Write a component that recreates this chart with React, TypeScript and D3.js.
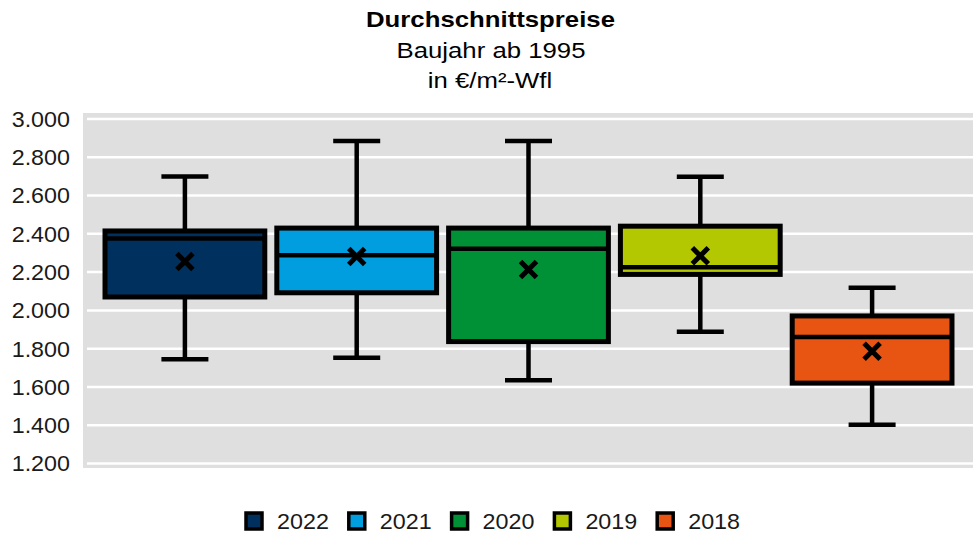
import React from "react";
import * as d3 from "d3";

const years = ["2022", "2021", "2020", "2019", "2018"];
const colors = ["#00305E", "#009EDE", "#009036", "#B3C800", "#E85412"];
const whiskerLow = [1745, 1752, 1635, 1888, 1403];
const q1 = [2070, 2092, 1837, 2188, 1620];
const median = [2376, 2288, 2322, 2226, 1861];
const q3 = [2415, 2430, 2430, 2440, 1971];
const whiskerHigh = [2700, 2885, 2885, 2698, 2118];
const mean = [2255, 2282, 2214, 2285, 1786];
const yTicks = [1200, 1400, 1600, 1800, 2000, 2200, 2400, 2600, 2800, 3000];
const titleLines = ["Durchschnittspreise", "Baujahr ab 1995", "in €/m²-Wfl"];

const W = 973;
const H = 535;
const font = "'Liberation Sans', Arial, sans-serif";
const fmt = (v: number) => d3.format(",.0f")(v).replace(/,/g, ".");

function SText(props: { x: number; y: number; sx: number; size: number; anchor?: string; bold?: boolean; dy?: string; fill?: string; children: React.ReactNode }) {
  return (
    <text
      transform={`translate(${props.x},${props.y}) scale(${props.sx},1)`}
      dy={props.dy}
      textAnchor={props.anchor || "start"}
      fontFamily={font}
      fontSize={props.size}
      fontWeight={props.bold ? "bold" : "normal"}
      fill={props.fill || "#000"}
    >
      {props.children}
    </text>
  );
}

export default function App() {
  const y = d3.scaleLinear().domain([1200, 3000]).range([463.5, 119]);
  const x = d3.scalePoint<string>().domain(years).range([99, 958]).padding(0.5);
  const step = x.step();
  const boxW = step * 0.93;
  const capW = 47;
  const m = 8;
  return (
    <svg width={W} height={H} style={{ position: "absolute", left: 0, top: 0, background: "#fff" }}>
      <SText x={490.5} y={26.5} sx={1.12} size={23} anchor="middle" bold>{titleLines[0]}</SText>
      <SText x={491} y={58} sx={1.12} size={23} anchor="middle">{titleLines[1]}</SText>
      <SText x={490} y={87.5} sx={1.12} size={23} anchor="middle">{titleLines[2]}</SText>
      <rect x={83} y={113} width={890} height={355} fill="#DFDFDF" />
      {yTicks.map((t) => (
        <g key={t}>
          <line x1={87} x2={973} y1={y(t)} y2={y(t)} stroke="#fff" strokeWidth={2.5} />
          <SText x={70} y={y(t)} dy="0.36em" sx={1.06} size={22} anchor="end" fill="#1a1a1a">{fmt(t)}</SText>
        </g>
      ))}
      {years.map((yr, i) => {
        const cx = x(yr)!;
        return (
          <g key={yr}>
            <line x1={cx} x2={cx} y1={y(whiskerHigh[i])} y2={y(q3[i])} stroke="#000" strokeWidth={4.5} />
            <line x1={cx} x2={cx} y1={y(q1[i])} y2={y(whiskerLow[i])} stroke="#000" strokeWidth={4.5} />
            <line x1={cx - capW / 2} x2={cx + capW / 2} y1={y(whiskerHigh[i])} y2={y(whiskerHigh[i])} stroke="#000" strokeWidth={4.5} />
            <line x1={cx - capW / 2} x2={cx + capW / 2} y1={y(whiskerLow[i])} y2={y(whiskerLow[i])} stroke="#000" strokeWidth={4.5} />
            <rect x={cx - boxW / 2} y={y(q3[i])} width={boxW} height={y(q1[i]) - y(q3[i])} fill={colors[i]} stroke="#000" strokeWidth={5} />
            <line x1={cx - boxW / 2} x2={cx + boxW / 2} y1={y(median[i])} y2={y(median[i])} stroke="#000" strokeWidth={4.5} />
            <path
              d={`M${cx - m},${y(mean[i]) - m}L${cx + m},${y(mean[i]) + m}M${cx - m},${y(mean[i]) + m}L${cx + m},${y(mean[i]) - m}`}
              stroke="#000"
              strokeWidth={5}
            />
          </g>
        );
      })}
      {years.map((yr, i) => {
        const lx = 246 + i * 102.8;
        return (
          <g key={"l" + yr}>
            <rect x={lx} y={513} width={16} height={16} fill={colors[i]} stroke="#000" strokeWidth={3.5} />
            <SText x={lx + 31} y={529} sx={1.06} size={22} fill="#1a1a1a">{yr}</SText>
          </g>
        );
      })}
    </svg>
  );
}
